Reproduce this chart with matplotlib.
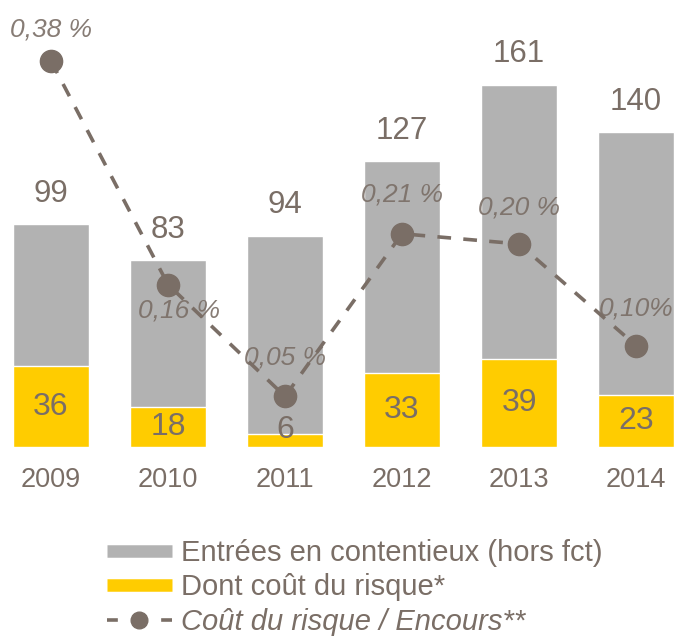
import matplotlib
matplotlib.use("Agg")
import matplotlib.pyplot as plt
from matplotlib.lines import Line2D

# Données
years = ["2009", "2010", "2011", "2012", "2013", "2014"]
contentieux = [99, 83, 94, 127, 161, 140]
cout_risque = [36, 18, 6, 33, 39, 23]
ratio = [0.38, 0.16, 0.05, 0.21, 0.20, 0.10]
ratio_labels = ["0,38 %", "0,16 %", "0,05 %", "0,21 %", "0,20 %", "0,10%"]

grey = "#b2b2b2"
yellow = "#ffcc00"
brown = "#7a6e66"

plt.rcParams["font.family"] = ["Liberation Sans", "DejaVu Sans"]

fig = plt.figure(figsize=(6.75, 6.37), dpi=100)
ax = fig.add_axes([0, 0.298, 1, 0.702])
x = list(range(len(years)))

ax.bar(x, contentieux, width=0.65, color=grey, edgecolor="white", linewidth=1)
ax.bar(x, cout_risque, width=0.65, color=yellow, edgecolor="white", linewidth=1)
ax.set_xlim(-0.436, 5.333)
ax.set_ylim(0, 198.7)

for i, v in enumerate(contentieux):
    ax.annotate(str(v), (i, v), xytext=(0, 22), textcoords="offset points",
                ha="center", va="center", fontsize=22.5, color=brown)
for i, v in enumerate(cout_risque):
    ax.text(i, max(v / 2, 7.5), str(v), ha="center", va="center",
            fontsize=23, color=brown, zorder=3)

ax.set_xticks(x, years)
ax.tick_params(axis="x", length=0, pad=14, labelsize=19.5, labelcolor=brown)
ax.set_yticks([])
for s in ax.spines.values():
    s.set_visible(False)

# Ligne secondaire
ax2 = ax.twinx()
ax2.plot(x, ratio, color=brown, linewidth=2.6, dashes=(3.8, 3.4),
         marker="o", markersize=16)
ax2.set_ylim(0, 0.44)
ax2.set_yticks([])
for s in ax2.spines.values():
    s.set_visible(False)

offsets = [(0, 23), (8, -19), (0, 28), (0, 28), (0, 26), (0, 27)]
for i, (v, lab) in enumerate(zip(ratio, ratio_labels)):
    ax2.annotate(lab, (i, v), xytext=offsets[i], textcoords="offset points",
                 ha="center", va="center", fontsize=19, color=brown,
                 style="italic", alpha=0.9)

handles = [
    Line2D([], [], color=grey, linewidth=9, solid_capstyle="butt"),
    Line2D([], [], color=yellow, linewidth=9, solid_capstyle="butt"),
    Line2D([], [], color=brown, linewidth=2.6, dashes=(3, 4.5),
           marker="o", markersize=12),
]
leg = fig.legend(handles,
                 ["Entrées en contentieux (hors fct)", "Dont coût du risque*",
                  "Coût du risque / Encours**"],
                 loc="center left", bbox_to_anchor=(0.158, 0.078),
                 frameon=False, fontsize=21, handlelength=2.23,
                 handletextpad=0.33, labelspacing=0.22, borderpad=0,
                 borderaxespad=0, numpoints=1)
for t in leg.get_texts():
    t.set_color(brown)
leg.get_texts()[2].set_style("italic")

fig.savefig("out.png", dpi=100)
